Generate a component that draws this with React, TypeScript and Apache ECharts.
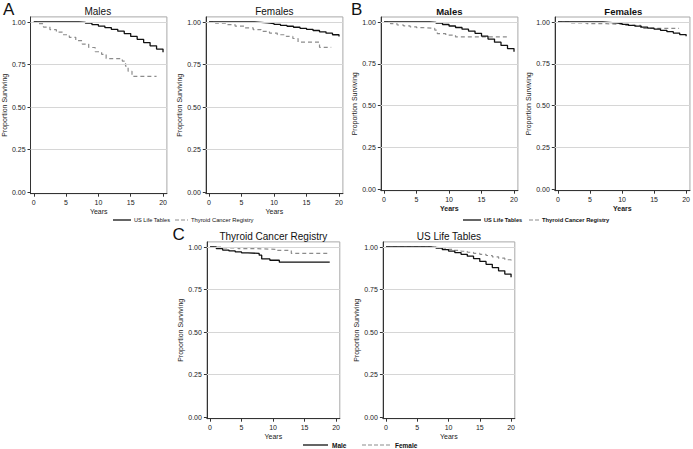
import React, { useEffect, useRef } from "react";
import * as echarts from "echarts";

// ---- data ----
const years = [0, 1, 2, 3, 4, 5, 6, 7, 8, 9, 10, 11, 12, 13, 14, 15, 16, 17, 18, 19, 20];
const usMale = [1.0, 1.0, 1.0, 1.0, 1.0, 1.0, 1.0, 0.998, 0.993, 0.985, 0.976, 0.967, 0.957, 0.946, 0.932, 0.915, 0.898, 0.879, 0.86, 0.841, 0.822];
const usFemale = [1.0, 1.0, 1.0, 1.0, 1.0, 1.0, 1.0, 0.998, 0.995, 0.991, 0.986, 0.98, 0.975, 0.969, 0.963, 0.957, 0.95, 0.942, 0.934, 0.925, 0.915];

const aMaleTcrT = [0, 0.5, 1.5, 2.5, 3.5, 4.5, 5.5, 6.5, 7.5, 8.5, 9.5, 10.5, 11.2, 13.7, 14.2, 14.6, 15.2, 19.0];
const aMaleTcrS = [1.0, 0.99, 0.97, 0.955, 0.94, 0.925, 0.91, 0.89, 0.87, 0.85, 0.825, 0.81, 0.785, 0.77, 0.74, 0.71, 0.68, 0.68];

const aFemaleTcrT = [0, 1, 2.5, 4, 5.5, 6.8, 8, 9.3, 10.5, 11.9, 12.9, 13.7, 17.0, 18.8];
const aFemaleTcrS = [1.0, 0.993, 0.985, 0.976, 0.965, 0.955, 0.945, 0.935, 0.925, 0.915, 0.903, 0.882, 0.851, 0.851];

const tcrMaleT = [0, 1, 2, 3, 4, 5, 6, 7.8, 8.2, 9.5, 11.0, 19.0];
const tcrMaleS = [1.0, 0.99, 0.982, 0.977, 0.971, 0.966, 0.962, 0.952, 0.93, 0.922, 0.911, 0.911];

const tcrFemaleT = [0, 2, 4.5, 7.5, 10.5, 12.9, 18.9];
const tcrFemaleS = [1.0, 0.995, 0.99, 0.986, 0.98, 0.962, 0.962];

const xTicks = [0, 5, 10, 15, 20];
const yTicks = [0, 0.25, 0.5, 0.75, 1];
const gridLevels = [0.25, 0.5, 0.75, 1];
const panelTitles = ["Males", "Females", "Males", "Females", "Thyroid Cancer Registry", "US Life Tables"];
const panelLetters = ["A", "B", "C"];
const legendAB = ["US Life Tables", "Thyroid Cancer Registry"];
const legendC = ["Male", "Female"];

const FONT = "'Liberation Sans', Arial, sans-serif";
const SOLID = "#111111";
const DASH = "#8c8c8c";

const zip = (xs: number[], ys: number[]) => xs.map((x, i) => [x, ys[i]]);

const usT = years;
const panelSeries: [number[][], number[][]][] = [
  [zip(usT, usMale), zip(aMaleTcrT, aMaleTcrS)],
  [zip(usT, usFemale), zip(aFemaleTcrT, aFemaleTcrS)],
  [zip(usT, usMale), zip(tcrMaleT, tcrMaleS)],
  [zip(usT, usFemale), zip(tcrFemaleT, tcrFemaleS)],
  [zip(tcrMaleT, tcrMaleS), zip(tcrFemaleT, tcrFemaleS)],
  [zip(usT, usMale), zip(usT, usFemale)],
];

// layout (px): left, right, top, bottom of each plot frame
const layout = [
  { l: 28.7, r: 166.9, t: 16.9, b: 193.7, bold: false },
  { l: 205.8, r: 342.9, t: 16.9, b: 193.7, bold: false },
  { l: 380.8, r: 517.9, t: 17.0, b: 190.7, bold: true },
  { l: 554.8, r: 691.9, t: 17.0, b: 190.7, bold: true },
  { l: 206.9, r: 339.8, t: 241.9, b: 418.7, bold: false },
  { l: 382.9, r: 514.8, t: 241.9, b: 418.7, bold: false },
];

export default function App() {
  const ref = useRef<HTMLDivElement>(null);
  useEffect(() => {
    if (!ref.current) return;
    const chart = echarts.init(ref.current, null, { renderer: "svg" });

    const grids = layout.map((p) => ({
      left: p.l,
      top: p.t,
      width: p.r - p.l,
      height: p.b - p.t,
      show: true,
      borderColor: "#a8a8a8",
      borderWidth: 1,
      backgroundColor: "transparent",
      containLabel: false,
    }));

    const xAxes = layout.map((p, i) => ({
      type: "value",
      gridIndex: i,
      min: -0.5,
      max: 20.6,
      name: "Years",
      nameLocation: "middle",
      nameGap: 14,
      nameTextStyle: { fontSize: 7, color: "#222", fontFamily: FONT, fontWeight: p.bold ? "bold" : "normal" },
      axisLine: { show: true, onZero: false, lineStyle: { color: "#333", width: 1 } },
      axisTick: { show: true, length: 3, customValues: xTicks, lineStyle: { color: "#333" } },
      axisLabel: { customValues: xTicks, fontSize: 7, margin: 5, color: "#222", fontFamily: FONT },
      splitLine: { show: false },
    }));

    const yAxes = layout.map((p, i) => ({
      type: "value",
      gridIndex: i,
      min: -0.01,
      max: 1.03,
      name: "Proportion Surviving",
      nameLocation: "middle",
      nameGap: 20,
      nameTextStyle: { fontSize: 7, color: "#222", fontFamily: FONT },
      axisLine: { show: true, onZero: false, lineStyle: { color: "#333", width: 1 } },
      axisTick: { show: true, length: 3, customValues: yTicks, lineStyle: { color: "#333" } },
      axisLabel: {
        customValues: yTicks,
        fontSize: 7,
        margin: 5,
        color: "#222",
        fontFamily: FONT,
        formatter: (v: number) => v.toFixed(2),
      },
      splitLine: { show: false },
    }));

    const series: any[] = [];
    panelSeries.forEach(([solid, dashed], i) => {
      series.push({
        type: "line",
        xAxisIndex: i,
        yAxisIndex: i,
        data: [],
        silent: true,
        z: 1,
        markLine: {
          silent: true,
          symbol: ["none", "none"],
          label: { show: false },
          lineStyle: { color: "#d6d6d6", width: 1, type: "solid" },
          data: gridLevels.map((v) => ({ yAxis: v })),
        },
      });
      series.push({
        type: "line",
        xAxisIndex: i,
        yAxisIndex: i,
        data: dashed,
        step: "end",
        showSymbol: false,
        z: 3,
        lineStyle: { color: DASH, width: 1.2, type: [4, 3] },
      });
      series.push({
        type: "line",
        xAxisIndex: i,
        yAxisIndex: i,
        data: solid,
        step: "end",
        showSymbol: false,
        z: 4,
        lineStyle: { color: SOLID, width: 1.3 },
      });
    });

    const txt = (text: string, x: number, y: number, size: number, bold = false, align = "center") => ({
      type: "text",
      x,
      y,
      style: { text, fontSize: size, fontWeight: bold ? "bold" : "normal", fill: "#111", align, verticalAlign: "middle", fontFamily: FONT },
    });
    const seg = (x1: number, x2: number, y: number, dashed: boolean) => ({
      type: "line",
      shape: { x1, y1: y, x2, y2: y },
      style: { stroke: dashed ? DASH : SOLID, lineWidth: dashed ? 1.2 : 1.3, lineDash: dashed ? [4, 2] : null },
    });

    const titleY = [11, 11, 11, 11, 236.7, 236.7];
    const titleSize = [10, 10, 9.5, 9.5, 10, 10];
    const graphics: any[] = layout.map((p, i) =>
      txt(panelTitles[i], (p.l + p.r) / 2, titleY[i], titleSize[i], p.bold)
    );
    graphics.push(txt(panelLetters[0], 3, 9.5, 17, false, "left"));
    graphics.push(txt(panelLetters[1], 351, 9.5, 17, false, "left"));
    graphics.push(txt(panelLetters[2], 172.5, 234, 17, false, "left"));

    // legend A
    graphics.push(seg(113, 131, 220, false));
    graphics.push(txt(legendAB[0], 134, 220, 5.6, false, "left"));
    graphics.push(seg(175, 188, 220, true));
    graphics.push(txt(legendAB[1], 191, 220, 5.8, false, "left"));
    // legend B
    graphics.push(seg(463, 481, 220, false));
    graphics.push(txt(legendAB[0], 484, 220, 5.6, true, "left"));
    graphics.push(seg(529, 540, 220, true));
    graphics.push(txt(legendAB[1], 542, 220, 5.8, true, "left"));
    // legend C
    graphics.push(seg(303, 328, 445, false));
    graphics.push(txt(legendC[0], 332, 445, 6.5, true, "left"));
    graphics.push(seg(362, 391, 445, true));
    graphics.push(txt(legendC[1], 395, 445, 6.5, true, "left"));

    chart.setOption({
      animation: false,
      backgroundColor: "#ffffff",
      textStyle: { fontFamily: FONT },
      grid: grids,
      xAxis: xAxes,
      yAxis: yAxes,
      series,
      graphic: graphics,
    });
    return () => chart.dispose();
  }, []);
  return (
    <div
      ref={ref}
      style={{ position: "fixed", left: 0, top: 0, width: 693, height: 449, background: "#fff" }}
    />
  );
}
